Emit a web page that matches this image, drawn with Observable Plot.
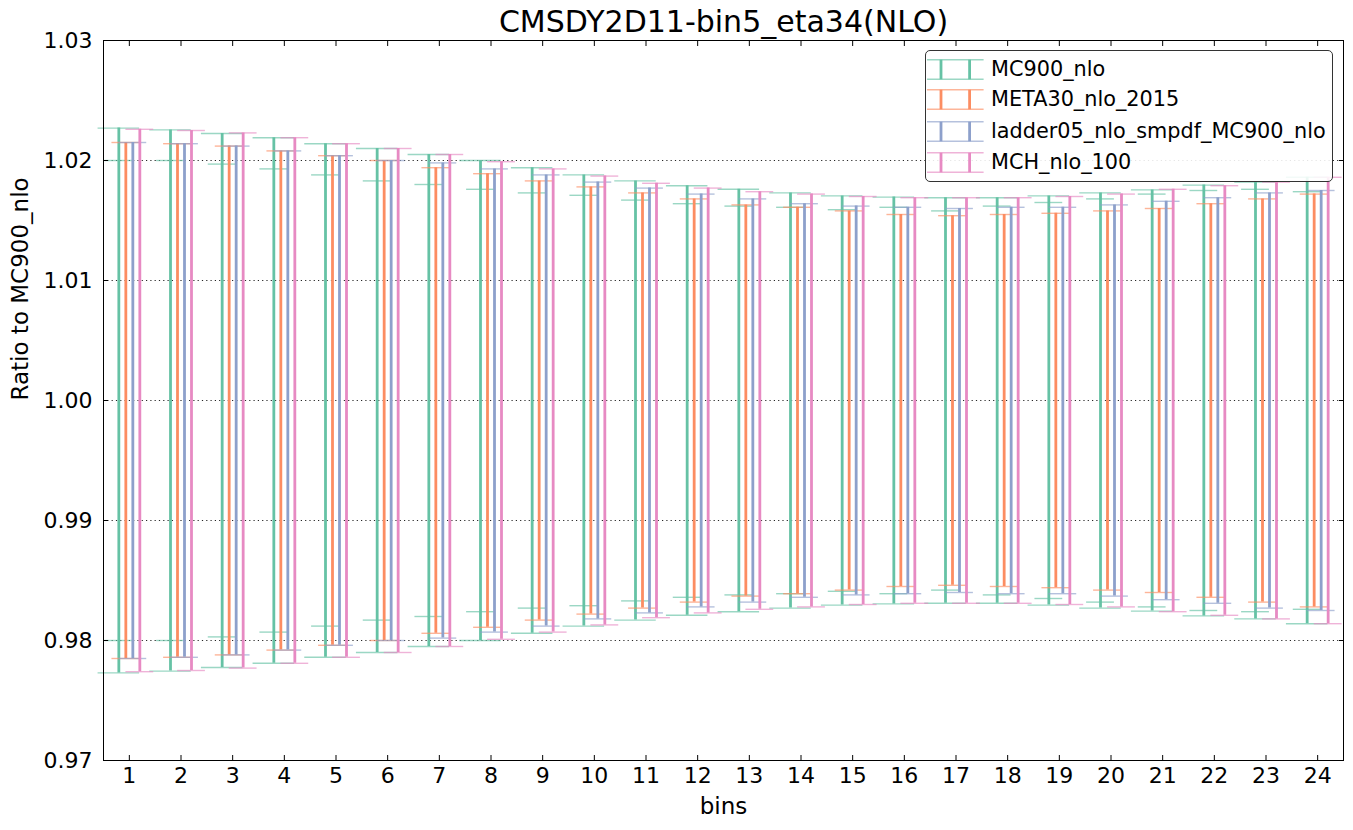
<!DOCTYPE html>
<html><head><meta charset="utf-8">
<script src="https://cdn.jsdelivr.net/npm/d3@7"></script>
<script src="https://cdn.jsdelivr.net/npm/@observablehq/plot@0.6"></script>
<style>
html,body{margin:0;padding:0;background:#fff;overflow:hidden;font-family:"DejaVu Sans",sans-serif;}
#wrap{position:relative;width:1353px;height:830px;}
#legend{position:absolute;left:925px;top:50px;width:406px;height:130px;border:1px solid #333;border-radius:5px;background:rgba(255,255,255,0.88);}
.row{position:absolute;left:0;width:100%;height:31px;}
.row svg{position:absolute;left:1px;top:0;}
.row span{position:absolute;left:65px;top:0;line-height:31px;font-size:20.8px;color:#000;white-space:nowrap;}
</style></head><body><div id="wrap"><div id="legend"></div></div>
<script>
// ---- data ----
const bins = [1,2,3,4,5,6,7,8,9,10,11,12,13,14,15,16,17,18,19,20,21,22,23,24];
const seriesNames = ["MC900_nlo","META30_nlo_2015","ladder05_nlo_smpdf_MC900_nlo","MCH_nlo_100"];
const seriesColors = ["#66c2a5","#fc8d62","#8da0cb","#e78ac3"];
const centralValue = 1.0;
// MC900_nlo: outer (1 sigma) and inner (68% CL) half-widths of the ratio
const mc900Err   = [0.0227,0.02255,0.02225,0.0219,0.0214,0.0210,0.0205,0.0200,0.0194,0.0188,0.0183,0.0179,0.0176,0.0173,0.01705,0.01695,0.0169,0.0169,0.01705,0.0173,0.01755,0.01795,0.0182,0.0186];
const mc900Err68 = [0.0200,0.0200,0.0197,0.0193,0.0188,0.0183,0.0180,0.0176,0.0173,0.0171,0.0167,0.0164,0.0162,0.0161,0.0159,0.0161,0.0158,0.0162,0.0165,0.0168,0.0172,0.0175,0.0176,0.0174];
const meta30Err  = [0.0215,0.0214,0.0212,0.0208,0.0204,0.0200,0.0194,0.0189,0.0183,0.0178,0.0173,0.0168,0.0163,0.0161,0.0158,0.0155,0.0154,0.0155,0.0156,0.0158,0.0160,0.0164,0.0168,0.0172];
const ladderErr  = [0.0215,0.0214,0.0212,0.0208,0.0204,0.0200,0.0198,0.0193,0.0188,0.0182,0.0177,0.0172,0.0168,0.0164,0.0162,0.0161,0.0160,0.0161,0.0161,0.0163,0.0166,0.0169,0.0173,0.0175];
const mchErr     = [0.0226,0.0225,0.0223,0.0219,0.0214,0.0210,0.0205,0.0199,0.0193,0.0187,0.0181,0.0177,0.0174,0.0172,0.0170,0.0169,0.0169,0.0169,0.0170,0.0172,0.0176,0.0179,0.0182,0.0186];
const yTicks = [0.97,0.98,0.99,1.00,1.01,1.02,1.03];
const gridTicks = [0.98,0.99,1.00,1.01,1.02];
const title = "CMSDY2D11-bin5_eta34(NLO)";
const xLabel = "bins";
const yLabel = "Ratio to MC900_nlo";

// ---- layout ----
const W = 1353, H = 830, mL = 103, mR = 10, mT = 40, mB = 70;
const bw = (W - mL - mR) / bins.length;
const offsets = [-10.5, -3.5, 3.5, 10.5];
const narrowCap = 27.8, wideCap = 41.5;

function rowsFor(err) {
  return bins.map((b, i) => ({bin: b, lo: centralValue - err[i], hi: centralValue + err[i]}));
}
function caps(rows, color, dx, capW) {
  const inset = (bw - capW) / 2;
  const o = {x: "bin", stroke: color, strokeWidth: 1.4, strokeOpacity: 0.65, dx, insetLeft: inset, insetRight: inset};
  return [Plot.tickY(rows, {...o, y: "hi"}), Plot.tickY(rows, {...o, y: "lo"})];
}
function bar(rows, color, dx) {
  return Plot.ruleX(rows, {x: "bin", y1: "lo", y2: "hi", stroke: color, strokeWidth: 2.8, dx});
}

const errs = [mc900Err, meta30Err, ladderErr, mchErr];
const dataMarks = [];
errs.forEach((e, k) => {
  const rows = rowsFor(e);
  dataMarks.push(bar(rows, seriesColors[k], offsets[k]));
  if (k === 0) {
    dataMarks.push(...caps(rows, seriesColors[k], offsets[k], wideCap));
    dataMarks.push(...caps(rowsFor(mc900Err68), seriesColors[k], offsets[k], narrowCap));
  } else {
    dataMarks.push(...caps(rows, seriesColors[k], offsets[k], narrowCap));
  }
});

const chart = Plot.plot({
  width: W, height: H,
  marginLeft: mL, marginRight: mR, marginTop: mT, marginBottom: mB,
  style: {fontFamily: "DejaVu Sans", fontSize: "22px", background: "#fff", color: "#000"},
  x: {type: "band", domain: bins, padding: 0, round: false, label: null},
  y: {domain: [0.97, 1.03], label: null},
  marks: [
    Plot.gridY(gridTicks, {stroke: "#000", strokeOpacity: 0.85, strokeWidth: 1, strokeDasharray: "1.2,3.1"}),
    ...dataMarks,
    Plot.frame({stroke: "#000", strokeWidth: 1}),
    Plot.axisX({tickSize: 0, tickPadding: 7, fontSize: 22, label: null}),
    Plot.axisX({tickSize: 5, dy: -5, tickFormat: () => "", label: null}),
    Plot.axisX({anchor: "top", tickSize: 5, dy: 5, tickFormat: () => "", label: null}),
    Plot.axisY(yTicks, {tickSize: 0, tickPadding: 11, tickFormat: d3.format(".2f"), fontSize: 22, label: null}),
    Plot.axisY(yTicks, {tickSize: 5, dx: 5, tickFormat: () => "", label: null}),
    Plot.axisY(yTicks, {anchor: "right", tickSize: 5, dx: -5, tickFormat: () => "", label: null}),
    Plot.text([title], {frameAnchor: "top", dy: -18, lineAnchor: "middle", fontSize: 30, text: d => d, fill: "#000"}),
    Plot.text([xLabel], {frameAnchor: "bottom", dy: 46, lineAnchor: "middle", fontSize: 23, text: d => d, fill: "#000"}),
    Plot.text([yLabel], {frameAnchor: "left", dx: -83, lineAnchor: "middle", rotate: -90, fontSize: 23, text: d => d, fill: "#000"})
  ]
});
// make sure tick labels use the intended size
d3.select(chart).selectAll("g[aria-label$='tick label']").attr("font-size", 22).selectAll("text").style("font-size", "22px");
document.getElementById("wrap").prepend(chart);

// ---- legend ----
const legend = document.getElementById("legend");
const rowCenters = [18.3, 48.3, 80, 111.7];
seriesNames.forEach((name, k) => {
  const row = document.createElement("div");
  row.className = "row";
  row.style.top = (rowCenters[k] - 15.5) + "px";
  const c = seriesColors[k];
  row.innerHTML =
    `<svg width="60" height="31">
      <line x1="0" x2="56.6" y1="5.7" y2="5.7" stroke="${c}" stroke-width="1.4" stroke-opacity="0.65"/>
      <line x1="0" x2="56.6" y1="25.3" y2="25.3" stroke="${c}" stroke-width="1.4" stroke-opacity="0.65"/>
      <line x1="14" x2="14" y1="5.7" y2="25.3" stroke="${c}" stroke-width="2.8"/>
      <line x1="42.6" x2="42.6" y1="5.7" y2="25.3" stroke="${c}" stroke-width="2.8"/>
    </svg><span></span>`;
  row.querySelector("span").textContent = name;
  legend.appendChild(row);
});
</script>
</body></html>
